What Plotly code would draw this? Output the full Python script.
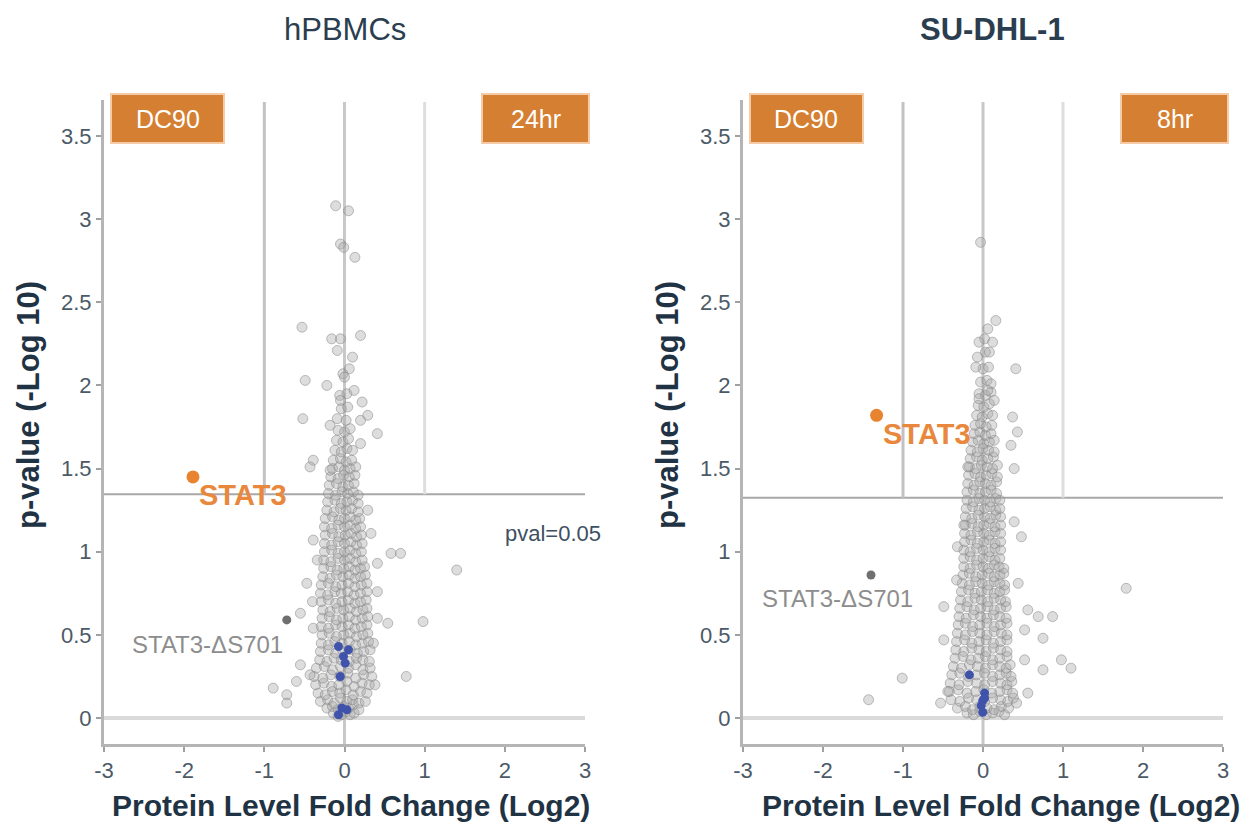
import plotly.graph_objects as go

W, H = 1260, 822
FONT = "Liberation Sans, Arial, sans-serif"

# ---------------- hPBMCs (24 hr) ----------------
pbmc_fc = [
    -0.14, -0.08, -0.03, 0.02, 0.07, 0.12,
    -0.22, -0.15, -0.08, -0.01, 0.05, 0.11, 0.18,
    -0.30, -0.21, -0.13, -0.05, 0.03, 0.10, 0.18, 0.26,
    -0.33, -0.24, -0.15, -0.06, 0.02, 0.11, 0.20, 0.28,
    -0.36, -0.26, -0.16, -0.07, 0.03, 0.12, 0.22, 0.31,
    -0.38, -0.27, -0.17, -0.06, 0.04, 0.14, 0.24, 0.34,
    -0.35, -0.25, -0.15, -0.05, 0.05, 0.14, 0.23, 0.32,
    -0.31, -0.22, -0.13, -0.04, 0.06, 0.15, 0.23, 0.31,
    -0.30, -0.20, -0.11, -0.02, 0.07, 0.16, 0.24, 0.32,
    -0.29, -0.20, -0.12, -0.03, 0.06, 0.14, 0.22, 0.30,
    -0.28, -0.19, -0.10, -0.01, 0.07, 0.15, 0.23, 0.29,
    -0.29, -0.20, -0.11, -0.03, 0.05, 0.13, 0.21, 0.28,
    -0.28, -0.19, -0.10, -0.02, 0.06, 0.14, 0.22, 0.29,
    -0.27, -0.18, -0.09, -0.01, 0.07, 0.15, 0.23, 0.28,
    -0.29, -0.20, -0.11, -0.03, 0.05, 0.13, 0.20, 0.27,
    -0.30, -0.21, -0.12, -0.04, 0.04, 0.12, 0.20, 0.28,
    -0.29, -0.20, -0.11, -0.03, 0.05, 0.13, 0.21, 0.28,
    -0.27, -0.18, -0.10, -0.02, 0.06, 0.13, 0.20, 0.26,
    -0.26, -0.17, -0.09, -0.01, 0.06, 0.13, 0.20, 0.25,
    -0.26, -0.17, -0.08, 0.00, 0.07, 0.14, 0.22,
    -0.25, -0.16, -0.08, 0.00, 0.07, 0.14, 0.21,
    -0.25, -0.16, -0.08, 0.00, 0.08, 0.15, 0.22,
    -0.24, -0.15, -0.07, 0.01, 0.08, 0.15, 0.21,
    -0.25, -0.16, -0.08, 0.00, 0.07, 0.14, 0.20,
    -0.24, -0.15, -0.07, 0.00, 0.07, 0.14, 0.19,
    -0.22, -0.13, -0.05, 0.02, 0.09, 0.17,
    -0.21, -0.12, -0.04, 0.03, 0.10, 0.17,
    -0.20, -0.11, -0.03, 0.04, 0.11, 0.17,
    -0.19, -0.10, -0.02, 0.05, 0.12,
    -0.17, -0.08, -0.01, 0.06, 0.13,
    -0.15, -0.07, 0.00, 0.07, 0.14,
    -0.14, -0.05, 0.02, 0.09,
    -0.12, -0.04, 0.03, 0.10,
    -0.10, -0.02, 0.05,
    -0.08, 0.00, 0.07,
    -0.09, 0.02,
    -0.04, 0.04,
    -0.06, 0.03,
    -0.02, 0.06,
    # scattered proteins away from the main body
    -0.11, 0.05, -0.05, -0.01, 0.13, -0.53, -0.16, -0.05, 0.20, -0.09,
    0.10, -0.49, -0.22, 0.00, 0.12, 0.22, -0.05, -0.52, 0.29, -0.18,
    0.20, 0.41, -0.39, -0.43, -0.18, 0.20, 0.29, 0.33, -0.39, 0.58,
    0.70, 0.41, 1.40, -0.47, 0.41, -0.55, 0.98, 0.54, 0.41, -0.39,
    -0.55, -0.43, -0.89, -0.72, -0.72, 0.77, -0.60, -0.34, 0.36, -0.40,
    0.38,
]
pbmc_logp = [
    0.03, 0.01, 0.02, 0.04, 0.02, 0.03,
    0.06, 0.07, 0.05, 0.07, 0.06, 0.08, 0.05,
    0.10, 0.11, 0.09, 0.12, 0.10, 0.11, 0.09, 0.10,
    0.15, 0.14, 0.16, 0.15, 0.17, 0.14, 0.16, 0.15,
    0.20, 0.21, 0.19, 0.20, 0.22, 0.19, 0.21, 0.20,
    0.25, 0.24, 0.26, 0.25, 0.27, 0.24, 0.26, 0.25,
    0.30, 0.31, 0.29, 0.31, 0.30, 0.32, 0.29, 0.30,
    0.35, 0.34, 0.36, 0.35, 0.34, 0.36, 0.35, 0.34,
    0.40, 0.41, 0.39, 0.40, 0.41, 0.39, 0.40, 0.41,
    0.45, 0.44, 0.46, 0.45, 0.46, 0.44, 0.45, 0.46,
    0.50, 0.51, 0.49, 0.50, 0.51, 0.49, 0.50, 0.51,
    0.55, 0.54, 0.56, 0.55, 0.56, 0.54, 0.55, 0.56,
    0.60, 0.61, 0.59, 0.60, 0.61, 0.59, 0.60, 0.61,
    0.65, 0.64, 0.66, 0.65, 0.66, 0.64, 0.65, 0.66,
    0.70, 0.71, 0.69, 0.70, 0.71, 0.69, 0.70, 0.71,
    0.75, 0.74, 0.76, 0.75, 0.76, 0.74, 0.75, 0.76,
    0.80, 0.81, 0.79, 0.80, 0.81, 0.79, 0.80, 0.81,
    0.85, 0.84, 0.86, 0.85, 0.86, 0.84, 0.85, 0.86,
    0.90, 0.91, 0.89, 0.90, 0.91, 0.89, 0.90, 0.91,
    0.95, 0.94, 0.96, 0.95, 0.96, 0.94, 0.95,
    1.00, 1.01, 0.99, 1.00, 1.01, 0.99, 1.00,
    1.05, 1.04, 1.06, 1.05, 1.06, 1.04, 1.05,
    1.10, 1.11, 1.09, 1.10, 1.11, 1.09, 1.10,
    1.15, 1.14, 1.16, 1.15, 1.16, 1.14, 1.15,
    1.20, 1.21, 1.19, 1.20, 1.21, 1.19, 1.20,
    1.25, 1.24, 1.26, 1.25, 1.26, 1.24,
    1.30, 1.31, 1.29, 1.30, 1.31, 1.29,
    1.35, 1.34, 1.36, 1.35, 1.36, 1.34,
    1.40, 1.41, 1.39, 1.40, 1.41,
    1.45, 1.44, 1.46, 1.45, 1.46,
    1.50, 1.51, 1.49, 1.50, 1.51,
    1.55, 1.56, 1.54, 1.55,
    1.61, 1.60, 1.62, 1.61,
    1.67, 1.66, 1.68,
    1.73, 1.72, 1.74,
    1.80, 1.79,
    1.86, 1.87,
    1.94, 1.95,
    2.07, 2.10,
    3.08, 3.05, 2.85, 2.83, 2.77, 2.35, 2.28, 2.28, 2.30, 2.21,
    2.17, 2.03, 2.00, 2.05, 1.97, 1.90, 1.91, 1.80, 1.82, 1.76,
    1.79, 1.71, 1.55, 1.51, 1.49, 1.65, 1.25, 1.11, 1.07, 0.99,
    0.99, 0.93, 0.89, 0.81, 0.76, 0.63, 0.58, 0.57, 0.60, 0.54,
    0.32, 0.26, 0.18, 0.14, 0.09, 0.25, 0.22, 0.95, 0.45, 0.70,
    0.20,
]
pbmc_blue_fc = [-0.075, 0.05, -0.012, 0.009, -0.054, -0.033, 0.03, -0.075]
pbmc_blue_logp = [0.43, 0.41, 0.37, 0.33, 0.25, 0.06, 0.05, 0.02]
pbmc_stat3 = (-1.89, 1.45)
pbmc_ds701 = (-0.72, 0.59)
pbmc_cutoff = 1.345

# ---------------- SU-DHL-1 (8 hr) ----------------
sudhl_fc = [
    -0.20, -0.12, -0.04, 0.04, 0.12, 0.20, 0.27,
    -0.32, -0.22, -0.13, -0.04, 0.05, 0.14, 0.23, 0.32,
    -0.40, -0.29, -0.18, -0.08, 0.02, 0.12, 0.22, 0.31, 0.38,
    -0.42, -0.31, -0.20, -0.09, 0.01, 0.11, 0.21, 0.30, 0.37,
    -0.41, -0.30, -0.19, -0.08, 0.02, 0.12, 0.22, 0.30, 0.36,
    -0.39, -0.29, -0.18, -0.08, 0.02, 0.12, 0.21, 0.29, 0.35,
    -0.37, -0.27, -0.17, -0.07, 0.03, 0.12, 0.21, 0.29, 0.34,
    -0.35, -0.25, -0.15, -0.06, 0.03, 0.12, 0.21, 0.30,
    -0.34, -0.24, -0.14, -0.05, 0.04, 0.13, 0.22, 0.30,
    -0.33, -0.23, -0.14, -0.05, 0.04, 0.13, 0.22, 0.30,
    -0.32, -0.22, -0.13, -0.04, 0.05, 0.14, 0.23, 0.30,
    -0.31, -0.22, -0.13, -0.04, 0.05, 0.14, 0.22, 0.30,
    -0.30, -0.21, -0.12, -0.03, 0.05, 0.13, 0.21, 0.29,
    -0.29, -0.20, -0.11, -0.03, 0.06, 0.14, 0.22, 0.29,
    -0.28, -0.19, -0.10, -0.02, 0.06, 0.14, 0.22, 0.28,
    -0.27, -0.18, -0.10, -0.02, 0.06, 0.14, 0.21, 0.27,
    -0.26, -0.17, -0.09, -0.01, 0.07, 0.14, 0.21, 0.27,
    -0.25, -0.17, -0.09, -0.01, 0.07, 0.14, 0.21, 0.26,
    -0.24, -0.16, -0.08, 0.00, 0.07, 0.14, 0.20, 0.26,
    -0.24, -0.16, -0.08, 0.00, 0.08, 0.15, 0.21,
    -0.24, -0.16, -0.08, 0.00, 0.08, 0.15, 0.22,
    -0.23, -0.15, -0.07, 0.01, 0.08, 0.15, 0.22,
    -0.23, -0.15, -0.07, 0.01, 0.08, 0.15, 0.22,
    -0.22, -0.14, -0.06, 0.01, 0.08, 0.15, 0.22,
    -0.22, -0.14, -0.06, 0.02, 0.09, 0.16, 0.22,
    -0.21, -0.13, -0.05, 0.02, 0.09, 0.16, 0.21,
    -0.20, -0.12, -0.05, 0.02, 0.09, 0.16, 0.21,
    -0.20, -0.12, -0.04, 0.03, 0.10, 0.17,
    -0.19, -0.11, -0.04, 0.03, 0.10, 0.17,
    -0.18, -0.10, -0.03, 0.04, 0.11, 0.18,
    -0.17, -0.09, -0.02, 0.05, 0.12, 0.18,
    -0.16, -0.08, -0.01, 0.06, 0.13,
    -0.15, -0.07, 0.00, 0.07, 0.14,
    -0.13, -0.06, 0.01, 0.08, 0.14,
    -0.11, -0.04, 0.03, 0.10,
    -0.10, -0.03, 0.04, 0.11,
    -0.08, -0.01, 0.06, 0.12,
    -0.06, 0.01, 0.08,
    -0.05, 0.03, 0.10,
    -0.03, 0.05,
    0.00, 0.07,
    0.03,
    # scattered proteins away from the main body
    -0.03, 0.16, 0.06, 0.02, 0.12, -0.05, 0.08, -0.07, 0.41, -0.09,
    0.10, 0.06, -0.05, 0.14, 0.37, 0.43, 0.35, -0.19, 0.39, -0.24,
    0.39, 0.48, -0.32, -0.33, 0.44, 1.79, -0.49, 0.56, 0.69, 0.87,
    -0.49, 0.75, 0.52, 0.98, 1.10, 0.75, 0.52, -1.01, -1.43, 0.56,
    0.42, -0.44, -0.53,
]
sudhl_logp = [
    0.03, 0.02, 0.04, 0.02, 0.03, 0.04, 0.02,
    0.06, 0.07, 0.05, 0.07, 0.06, 0.05, 0.07, 0.06,
    0.11, 0.10, 0.12, 0.11, 0.10, 0.12, 0.11, 0.10, 0.12,
    0.16, 0.17, 0.15, 0.16, 0.17, 0.15, 0.16, 0.17, 0.15,
    0.21, 0.20, 0.22, 0.21, 0.20, 0.22, 0.21, 0.20, 0.22,
    0.26, 0.27, 0.25, 0.26, 0.27, 0.25, 0.26, 0.27, 0.25,
    0.31, 0.30, 0.32, 0.31, 0.30, 0.32, 0.31, 0.30, 0.32,
    0.36, 0.37, 0.35, 0.36, 0.37, 0.35, 0.36, 0.37,
    0.41, 0.40, 0.42, 0.41, 0.40, 0.42, 0.41, 0.40,
    0.46, 0.47, 0.45, 0.46, 0.47, 0.45, 0.46, 0.47,
    0.51, 0.50, 0.52, 0.51, 0.50, 0.52, 0.51, 0.50,
    0.56, 0.57, 0.55, 0.56, 0.57, 0.55, 0.56, 0.57,
    0.61, 0.60, 0.62, 0.61, 0.60, 0.62, 0.61, 0.60,
    0.66, 0.67, 0.65, 0.66, 0.67, 0.65, 0.66, 0.67,
    0.71, 0.70, 0.72, 0.71, 0.70, 0.72, 0.71, 0.70,
    0.76, 0.77, 0.75, 0.76, 0.77, 0.75, 0.76, 0.77,
    0.81, 0.80, 0.82, 0.81, 0.80, 0.82, 0.81, 0.80,
    0.86, 0.87, 0.85, 0.86, 0.87, 0.85, 0.86, 0.87,
    0.91, 0.90, 0.92, 0.91, 0.90, 0.92, 0.91, 0.90,
    0.96, 0.97, 0.95, 0.96, 0.97, 0.95, 0.96,
    1.01, 1.00, 1.02, 1.01, 1.00, 1.02, 1.01,
    1.06, 1.07, 1.05, 1.06, 1.07, 1.05, 1.06,
    1.11, 1.10, 1.12, 1.11, 1.10, 1.12, 1.11,
    1.16, 1.17, 1.15, 1.16, 1.17, 1.15, 1.16,
    1.21, 1.20, 1.22, 1.21, 1.20, 1.22, 1.21,
    1.26, 1.27, 1.25, 1.26, 1.27, 1.25, 1.26,
    1.31, 1.30, 1.32, 1.31, 1.30, 1.32, 1.31,
    1.36, 1.37, 1.35, 1.36, 1.37, 1.35,
    1.41, 1.40, 1.42, 1.41, 1.40, 1.42,
    1.46, 1.47, 1.45, 1.46, 1.47, 1.45,
    1.51, 1.50, 1.52, 1.51, 1.50, 1.52,
    1.56, 1.57, 1.55, 1.56, 1.57,
    1.61, 1.60, 1.62, 1.61, 1.60,
    1.66, 1.67, 1.65, 1.66, 1.67,
    1.71, 1.72, 1.70, 1.71,
    1.76, 1.77, 1.75, 1.76,
    1.82, 1.81, 1.83, 1.82,
    1.88, 1.87, 1.89,
    1.95, 1.94, 1.96,
    2.02, 2.03,
    2.10, 2.11,
    2.20,
    2.86, 2.39, 2.34, 2.28, 2.26, 2.26, 2.20, 2.17, 2.10, 2.11,
    2.01, 1.97, 1.92, 1.91, 1.81, 1.72, 1.64, 1.51, 1.50, 1.16,
    1.18, 1.09, 1.03, 0.83, 0.81, 0.78, 0.67, 0.65, 0.61, 0.61,
    0.47, 0.48, 0.53, 0.35, 0.30, 0.29, 0.35, 0.24, 0.11, 0.15,
    0.09, 0.16, 0.09,
]
sudhl_blue_fc = [-0.17, 0.02, 0.02, -0.003, -0.023, -0.003]
sudhl_blue_logp = [0.26, 0.15, 0.12, 0.105, 0.075, 0.035]
sudhl_stat3 = (-1.33, 1.82)
sudhl_ds701 = (-1.40, 0.86)
sudhl_cutoff = 1.325

assert len(pbmc_fc) == len(pbmc_logp)
assert len(sudhl_fc) == len(sudhl_logp)

panel_titles = ["hPBMCs", "<b>SU-DHL-1</b>"]
time_labels = ["24hr", "8hr"]
X_TICKS = [-3, -2, -1, 0, 1, 2, 3]
X_TICK_TEXT = ["-3", "-2", "-1", "0", "1", "2", "3"]
Y_RANGE = [-0.156, 3.716]
Y_TOP = 3.704

ORANGE = "#E8832F"
BLUE = "#4053AB"
BOX_FILL = "#D57F33"
BOX_EDGE = "#F4CBA6"


def px_x(p):
    return p / W


def px_y(p):
    return 1 - p / H


panels = [
    dict(fc=pbmc_fc, lp=pbmc_logp, bfc=pbmc_blue_fc, blp=pbmc_blue_logp,
         stat3=pbmc_stat3, ds=pbmc_ds701, cut=pbmc_cutoff,
         title_x=345, xtitle_x=351, ytitle_x=28,
         boxes=[(111, 224), (482, 589)],
         stat3_lab=(-1.84, 1.34), ds_lab=(-1.706, 0.44)),
    dict(fc=sudhl_fc, lp=sudhl_logp, bfc=sudhl_blue_fc, blp=sudhl_blue_logp,
         stat3=sudhl_stat3, ds=sudhl_ds701, cut=sudhl_cutoff,
         title_x=992, xtitle_x=1001, ytitle_x=667,
         boxes=[(750, 863), (1121, 1228)],
         stat3_lab=(-1.27, 1.71), ds_lab=(-1.82, 0.716)),
]

fig = go.Figure()
shapes = []
annotations = []

for i, p in enumerate(panels):
    xa = "x" if i == 0 else "x2"
    ya = "y" if i == 0 else "y2"

    # all quantified proteins
    fig.add_trace(go.Scatter(
        x=p["fc"], y=p["lp"], mode="markers", xaxis=xa, yaxis=ya,
        marker=dict(symbol="circle", size=10, color="rgba(165,165,165,0.38)",
                    line=dict(color="rgba(130,130,130,0.5)", width=1)),
        hoverinfo="skip", showlegend=False))
    # highlighted proteins
    fig.add_trace(go.Scatter(
        x=p["bfc"], y=p["blp"], mode="markers", xaxis=xa, yaxis=ya,
        marker=dict(size=9, color=BLUE), hoverinfo="skip", showlegend=False))
    fig.add_trace(go.Scatter(
        x=[p["ds"][0]], y=[p["ds"][1]], mode="markers", xaxis=xa, yaxis=ya,
        marker=dict(size=9, color="#6f6f6f"), hoverinfo="skip", showlegend=False))
    fig.add_trace(go.Scatter(
        x=[p["stat3"][0]], y=[p["stat3"][1]], mode="markers", xaxis=xa, yaxis=ya,
        marker=dict(size=13, color=ORANGE), hoverinfo="skip", showlegend=False))

    # reference lines
    line_defs = [
        (-3, 0, 3, 0, "#dadada", 4),
        (-3, p["cut"], 3, p["cut"], "#a8a8a8", 2),
        (-1, p["cut"], -1, Y_TOP, "#c2c2c2", 3),
        (0, Y_RANGE[0], 0, Y_TOP, "#c8c8c8", 3),
        (1, p["cut"], 1, Y_TOP, "#dedede", 3),
    ]
    for x0, y0, x1, y1, col, wd in line_defs:
        shapes.append(dict(type="line", xref=xa, yref=ya, x0=x0, y0=y0, x1=x1, y1=y1,
                           line=dict(color=col, width=wd), layer="below"))

    # condition boxes
    for (bx0, bx1), label in zip(p["boxes"], ["DC90", time_labels[i]]):
        shapes.append(dict(type="rect", xref="paper", yref="paper",
                           x0=px_x(bx0), x1=px_x(bx1), y0=px_y(143), y1=px_y(94),
                           fillcolor=BOX_FILL, line=dict(color=BOX_EDGE, width=2),
                           layer="above"))
        annotations.append(dict(xref="paper", yref="paper", x=px_x((bx0 + bx1) / 2),
                                y=px_y(119), text=label, showarrow=False,
                                font=dict(family=FONT, size=25, color="white"),
                                xanchor="center", yanchor="middle"))

    # point labels
    annotations.append(dict(xref=xa, yref=ya, x=p["stat3_lab"][0], y=p["stat3_lab"][1],
                            text="<b>STAT3</b>", showarrow=False, xanchor="left",
                            yanchor="middle",
                            font=dict(family=FONT, size=29, color="#E9873C")))
    annotations.append(dict(xref=xa, yref=ya, x=p["ds_lab"][0], y=p["ds_lab"][1],
                            text="STAT3-ΔS701", showarrow=False, xanchor="center",
                            yanchor="middle",
                            font=dict(family=FONT, size=24, color="#8d8d8d")))

    # panel title and axis titles
    annotations.append(dict(xref="paper", yref="paper", x=px_x(p["title_x"]), y=px_y(30),
                            text=panel_titles[i], showarrow=False, xanchor="center",
                            yanchor="middle",
                            font=dict(family=FONT, size=31, color="#2b3e4f")))
    annotations.append(dict(xref="paper", yref="paper", x=px_x(p["xtitle_x"]), y=px_y(805),
                            text="<b>Protein Level Fold Change (Log2)</b>", showarrow=False,
                            xanchor="center", yanchor="middle",
                            font=dict(family=FONT, size=30, color="#1f3344")))
    annotations.append(dict(xref="paper", yref="paper", x=px_x(p["ytitle_x"]), y=px_y(405),
                            text="<b>p-value (-Log 10)</b>", showarrow=False,
                            textangle=-90, xanchor="center", yanchor="middle",
                            font=dict(family=FONT, size=31, color="#1f3344")))

# significance threshold label
annotations.append(dict(xref="x", yref="y", x=2.60, y=1.11, text="pval=0.05",
                        showarrow=False, xanchor="center", yanchor="middle",
                        font=dict(family=FONT, size=22, color="#3e5061")))

axis_common = dict(showgrid=False, zeroline=False, showline=True, linecolor="#b5b5b5",
                   linewidth=3, ticks="outside", ticklen=5, tickwidth=2,
                   tickcolor="#a0a0a0", automargin=False,
                   tickfont=dict(family=FONT, size=22, color="#4c5a66"))

y_dom = [px_y(744), px_y(100)]
fig.update_layout(
    width=W, height=H,
    margin=dict(l=0, r=0, t=0, b=0, autoexpand=False),
    paper_bgcolor="white", plot_bgcolor="white",
    showlegend=False,
    xaxis=dict(domain=[px_x(104), px_x(585)], range=[-3, 3], tickvals=X_TICKS,
               ticktext=X_TICK_TEXT, anchor="y", **axis_common),
    yaxis=dict(domain=y_dom, range=Y_RANGE, dtick=0.5, anchor="x", **axis_common),
    xaxis2=dict(domain=[px_x(743), px_x(1223)], range=[-3, 3], tickvals=X_TICKS,
                ticktext=X_TICK_TEXT, anchor="y2", **axis_common),
    yaxis2=dict(domain=y_dom, range=Y_RANGE, dtick=0.5, anchor="x2", **axis_common),
    shapes=shapes,
    annotations=annotations,
)

fig.write_html("out.html")
